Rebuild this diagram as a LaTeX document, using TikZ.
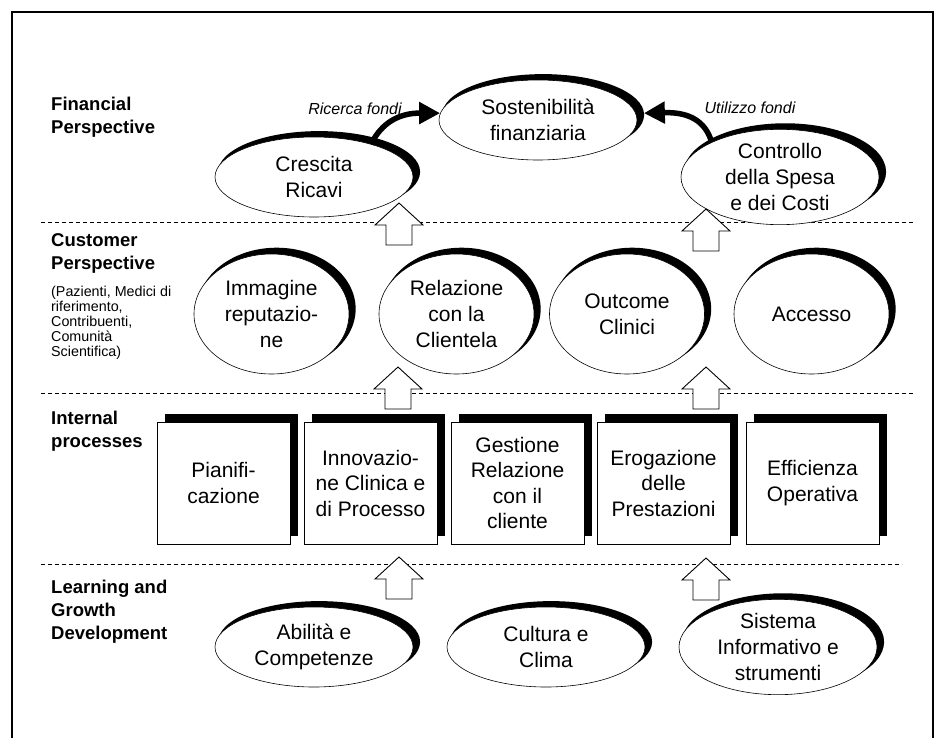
\documentclass[tikz,border=0pt]{standalone}
\usepackage{fontspec}
\setmainfont{Liberation Sans}
\usetikzlibrary{shapes.geometric,shadows,arrows.meta}

% hollow block arrow pointing up: x of the tip, y of the tip
\newcommand{\hollowarrow}[2]{%
  \draw[blockarrow] (#1,#2) -- ++(24,22) -- ++(-11,0) -- ++(0,20) -- ++(-26,0) -- ++(0,-20) -- ++(-11,0) -- cycle;}

\begin{document}
\begin{tikzpicture}[x=1pt,y=-1pt,
  goal/.style={ellipse,draw,fill=white,line width=0.6pt,inner sep=0pt,align=center,
    font=\fontsize{21}{26}\selectfont,
    drop shadow={shadow xshift=5pt,shadow yshift=5pt,shadow scale=1.02,fill=black,opacity=1}},
  flatgoal/.style={goal,minimum width=198pt,minimum height=80pt},
  tallgoal/.style={goal,minimum width=155pt,minimum height=120pt},
  process/.style={rectangle,draw,fill=white,line width=0.9pt,inner sep=0pt,align=center,
    minimum width=133pt,minimum height=122pt,font=\fontsize{21}{25.5}\selectfont,
    drop shadow={shadow xshift=8pt,shadow yshift=8pt,fill=black,opacity=1}},
  perspective/.style={anchor=west,align=left,inner sep=0pt,font=\bfseries\fontsize{18.5}{23}\selectfont},
  note/.style={anchor=west,align=left,inner sep=0pt,font=\fontsize{14.3}{15}\selectfont},
  fundlabel/.style={inner sep=0pt,font=\itshape\fontsize{16}{19}\selectfont},
  fundarrow/.style={line width=5.5pt,-{Triangle[length=21pt,width=21pt]}},
  blockarrow/.style={draw,fill=white,line width=0.9pt,line join=miter},
  layer/.style={dash pattern=on 4pt off 3pt,line width=0.7pt}]
\useasboundingbox (0,0) rectangle (936,738);

% frame
\draw[line width=1.2pt] (12,738) |- (933,12) -- (933,738);

% layer separators
\draw[layer] (41,222) -- (915,222);
\draw[layer] (41,393) -- (915,393);
\draw[layer] (41,564) -- (902,564);

% perspectives
\node[perspective] (fin) at (51,117) {Financial\\Perspective};
\node[perspective] (cust) at (51,253) {Customer\\Perspective};
\node[note] (custnote) at (51,323) {(Pazienti, Medici di\\riferimento,\\Contribuenti,\\Comunità\\Scientifica)};
\node[perspective] (int) at (51,431) {Internal\\processes};
\node[perspective] (learn) at (51,612) {Learning and\\Growth\\Development};

% financial
\node[flatgoal] (ricavi) at (314,177) {Crescita\\Ricavi};
\node[flatgoal] (sost) at (538,120) {Sostenibilità\\finanziaria};
\node[flatgoal] (spesa) at (780,177) {Controllo\\della Spesa\\e dei Costi};

% customer
\node[tallgoal] (immagine) at (271.5,314) {Immagine\\reputazio-\\ne};
\node[tallgoal] (relazione) at (456.5,314) {Relazione\\con la\\Clientela};
\node[tallgoal] (outcome) at (627,314) {Outcome\\Clinici};
\node[tallgoal] (accesso) at (811.5,314) {Accesso};

% internal processes
\node[process] (pianif) at (223.5,483) {Pianifi-\\cazione};
\node[process] (innov) at (370.5,483) {Innovazio-\\ne Clinica e\\di Processo};
\node[process] (gestione) at (517.5,483) {Gestione\\Relazione\\con il\\cliente};
\node[process] (erog) at (663.5,483) {Erogazione\\delle\\Prestazioni};
\node[process] (effic) at (812.5,483) {Efficienza\\Operativa};

% learning and growth
\node[flatgoal] (abilita) at (314,647) {Abilità e\\Competenze};
\node[flatgoal] (cultura) at (546,647) {Cultura e\\Clima};
\node[flatgoal] (sistema) at (778,647) {Sistema\\Informativo e\\strumenti};

% links between layers
\hollowarrow{399}{203}
\hollowarrow{706}{209}
\hollowarrow{398}{367}
\hollowarrow{706}{367}
\hollowarrow{399}{557}
\hollowarrow{706}{558}

% funds
\draw[fundarrow] (ricavi.30) .. controls (382,122) and (400,113) .. (sost.176);
\draw[fundarrow] (spesa.153) .. controls (705,120) and (688,112) .. ([xshift=8pt]sost.4);
\node[fundlabel] (ricerca) at (355,109) {Ricerca fondi};
\node[fundlabel] (utilizzo) at (750,108) {Utilizzo fondi};
\end{tikzpicture}
\end{document}
